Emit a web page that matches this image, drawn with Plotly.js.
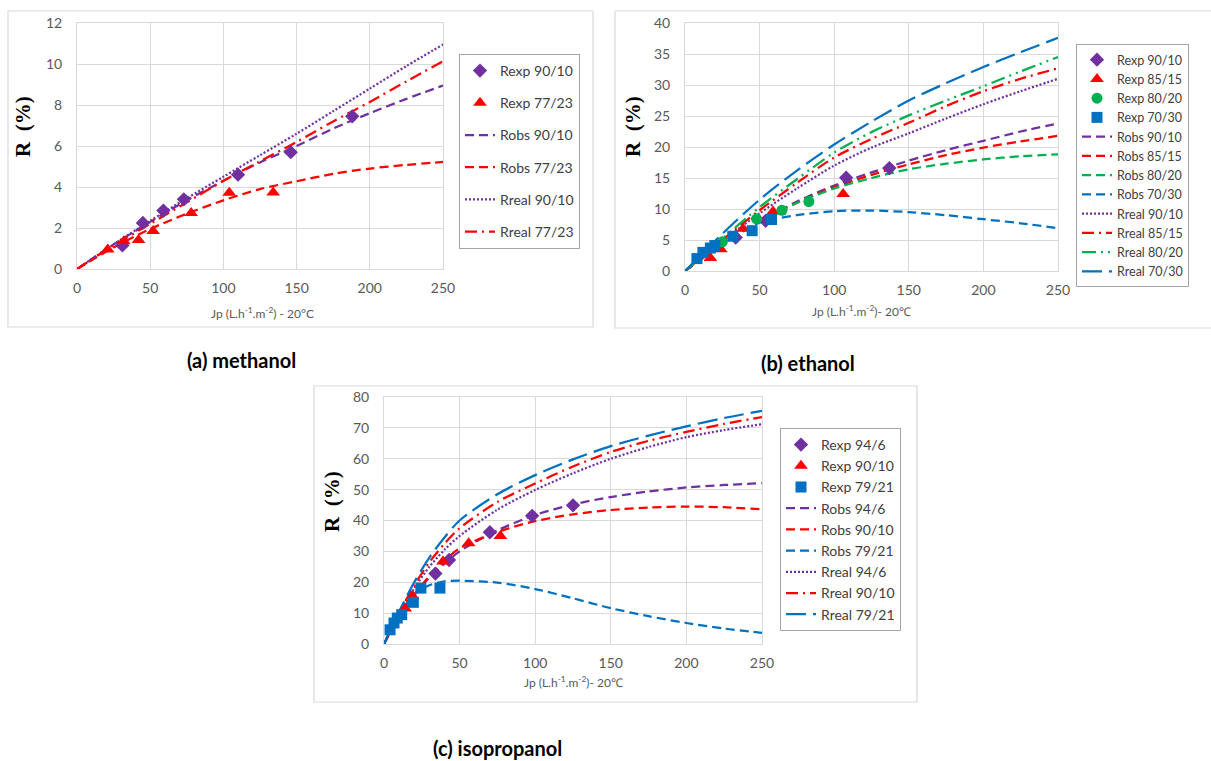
<!DOCTYPE html>
<html>
<head>
<meta charset="utf-8">
<script src="https://cdn.plot.ly/plotly-3.0.1.min.js"></script>
<style>html,body{margin:0;padding:0;background:#fff;}#chart{width:1211px;height:761px;}</style>
</head>
<body>
<div id="chart"></div>
<script>
// ---------- (a) methanol ----------
const xCurveA = [0,25,50,75,100,125,150,175,200,225,250];
const robsA_9010 = [0,1.2,2.3,3.35,4.3,5.2,6.0,6.85,7.6,8.3,8.95];
const robsA_7723 = [0,1.05,1.95,2.7,3.35,3.9,4.28,4.64,4.9,5.08,5.22];
const rrealA_9010 = [0,1.2,2.35,3.45,4.5,5.55,6.6,7.7,8.8,9.9,10.95];
const rrealA_7723 = [0,1.15,2.2,3.25,4.3,5.25,6.2,7.2,8.15,9.15,10.13];
const expA_9010_x = [31,45,59,73,110,146,188];
const expA_9010_y = [1.15,2.25,2.85,3.4,4.6,5.7,7.45];
const expA_7723_x = [21,32,42,52,78,104,134];
const expA_7723_y = [0.95,1.35,1.42,1.85,2.73,3.72,3.73];

// ---------- (b) ethanol ----------
const xCurveB = [0,25,50,75,100,125,150,175,200,225,250];
const robsB_9010 = [0,4.3,8.0,11.2,13.8,15.9,17.8,19.5,21.0,22.5,23.8];
const robsB_8515 = [0,4.3,8.0,11.0,13.5,15.5,17.2,18.7,19.9,20.9,21.8];
const robsB_8020 = [0,4.4,8.1,11.0,13.3,15.0,16.4,17.3,18.0,18.5,18.8];
const robsB_7030 = [0,4.6,7.8,9.0,9.65,9.75,9.5,9.0,8.35,7.7,6.9];
const rrealB_9010 = [0,4.8,9.3,13.3,17.0,19.9,22.2,24.6,26.9,29.0,31.0];
const rrealB_8515 = [0,5.0,9.8,14.2,18.3,21.3,23.9,26.6,29.0,31.0,32.7];
const rrealB_8020 = [0,5.2,10.3,14.8,19.1,22.4,25.1,27.5,29.8,32.2,34.5];
const rrealB_7030 = [0,6.0,11.5,16.2,20.4,24.1,27.5,30.3,32.9,35.3,37.6];
const expB_9010_x = [34,54,108,137];
const expB_9010_y = [5.4,8.1,15.05,16.6];
const expB_8515_x = [17,24,39,59,106];
const expB_8515_y = [2.1,3.5,6.8,9.6,12.4];
const expB_8020_x = [25,48,65,83];
const expB_8020_y = [4.7,8.4,9.8,11.2];
const expB_7030_x = [8,12,17,20,32,45,58];
const expB_7030_y = [2.0,3.0,3.7,4.1,5.6,6.5,8.3];

// ---------- (c) isopropanol ----------
const xCurveC = [0,10,20,30,40,50,75,100,125,150,175,200,225,250];
const robsC_946 = [0,9,16,21.5,26,30,36.8,41.8,45.2,47.6,49.4,50.7,51.5,52.1];
const robsC_9010 = [0,9,16,22,27,31,36.3,39.8,42.0,43.4,44.2,44.5,44.3,43.6];
const robsC_7921 = [0,9.5,16,19,20.3,20.5,19.9,17.8,14.8,11.6,9.0,6.8,5.0,3.6];
const rrealC_946 = [0,9.5,18,25,30.5,35,43.5,49.9,55.3,60.0,63.8,67.0,69.3,71.2];
const rrealC_9010 = [0,10,19,26.5,32.5,37.5,46,52,57.5,62.2,65.8,68.7,71.3,73.5];
const rrealC_7921 = [0,10.5,20,28,34.5,40,48.5,54.7,59.8,64.1,67.5,70.5,73.2,75.5];
const expC_946_x = [34,43,70,98,125];
const expC_946_y = [22.8,27.2,36.2,41.5,44.9];
const expC_9010_x = [14,19,39,56,77];
const expC_9010_y = [11.5,15.5,26.7,32.6,35.0];
const expC_7921_x = [4,6.6,8.8,11.7,19.4,24.4,37];
const expC_7921_y = [4.6,6.8,8.4,9.5,13.5,18.1,18.1];

// ---------- styling ----------
const PURPLE = '#7030A0', RED = '#FF0000', GREEN = '#00B050', BLUE = '#0070C0';
const W = 1211, H = 761;
const px = v => v / W, py = v => 1 - v / H;
const DASH_OBS = '9px,5px';
const DASH_DOT = '2px,2px';
const DASH_DASHDOT = '12px,5px,2px,5px';
const DASH_DASHDOTDOT = '14px,5px,2px,5px,2px,5px';
const DASH_LONG = '20px,7px';
const LW = 2.25;

let rank = 0;
function line(name, x, y, color, dash, ax, leg, grp) {
  return {type:'scatter', mode:'lines', name, x, y, xaxis:'x'+ax, yaxis:'y'+ax, legend:leg,
    legendgroup:grp ? name : undefined, legendrank: 100 + (rank++),
    line:{color, width:LW, dash, shape:'spline', smoothing:0.8}, hoverinfo:'skip'};
}
function pts(name, x, y, color, symbol, size, ax, leg, grp) {
  return {type:'scatter', mode:'markers', name, x, y, xaxis:'x'+ax, yaxis:'y'+ax, legend:leg,
    legendgroup:grp ? name : undefined, legendrank: (rank++),
    marker:{color, symbol, size, line:{width:0}}, hoverinfo:'skip'};
}

const traces = [];
// (a)
rank = 0;
const aExp = [
  pts('Rexp 90/10', expA_9010_x, expA_9010_y, PURPLE, 'diamond', 11, '', 'legend', true),
  pts('Rexp 77/23', expA_7723_x, expA_7723_y, RED, 'triangle-up', 12, '', 'legend', true)];
const aLines = [
  line('Robs 90/10', xCurveA, robsA_9010, PURPLE, DASH_OBS, '', 'legend', true),
  line('Robs 77/23', xCurveA, robsA_7723, RED, DASH_OBS, '', 'legend', true),
  line('Rreal 90/10', xCurveA, rrealA_9010, PURPLE, DASH_DOT, '', 'legend', true),
  line('Rreal 77/23', xCurveA, rrealA_7723, RED, DASH_DASHDOT, '', 'legend', true)];
traces.push(...aLines, ...aExp);
// (b)
rank = 0;
const bExp = [
  pts('Rexp 90/10', expB_9010_x, expB_9010_y, PURPLE, 'diamond', 11, '2', 'legend2'),
  pts('Rexp 85/15', expB_8515_x, expB_8515_y, RED, 'triangle-up', 12, '2', 'legend2'),
  pts('Rexp 80/20', expB_8020_x, expB_8020_y, GREEN, 'circle', 11, '2', 'legend2'),
  pts('Rexp 70/30', expB_7030_x, expB_7030_y, BLUE, 'square', 11, '2', 'legend2')];
const bLines = [
  line('Robs 90/10', xCurveB, robsB_9010, PURPLE, DASH_OBS, '2', 'legend2'),
  line('Robs 85/15', xCurveB, robsB_8515, RED, DASH_OBS, '2', 'legend2'),
  line('Robs 80/20', xCurveB, robsB_8020, GREEN, DASH_OBS, '2', 'legend2'),
  line('Robs 70/30', xCurveB, robsB_7030, BLUE, DASH_OBS, '2', 'legend2'),
  line('Rreal 90/10', xCurveB, rrealB_9010, PURPLE, DASH_DOT, '2', 'legend2'),
  line('Rreal 85/15', xCurveB, rrealB_8515, RED, DASH_DASHDOT, '2', 'legend2'),
  line('Rreal 80/20', xCurveB, rrealB_8020, GREEN, DASH_DASHDOTDOT, '2', 'legend2'),
  line('Rreal 70/30', xCurveB, rrealB_7030, BLUE, DASH_LONG, '2', 'legend2')];
traces.push(...bLines, ...bExp);
// (c)
rank = 0;
const cExp = [
  pts('Rexp 94/6', expC_946_x, expC_946_y, PURPLE, 'diamond', 11, '3', 'legend3'),
  pts('Rexp 90/10', expC_9010_x, expC_9010_y, RED, 'triangle-up', 12, '3', 'legend3'),
  pts('Rexp 79/21', expC_7921_x, expC_7921_y, BLUE, 'square', 11, '3', 'legend3')];
const cLines = [
  line('Robs 94/6', xCurveC, robsC_946, PURPLE, DASH_OBS, '3', 'legend3'),
  line('Robs 90/10', xCurveC, robsC_9010, RED, DASH_OBS, '3', 'legend3'),
  line('Robs 79/21', xCurveC, robsC_7921, BLUE, DASH_OBS, '3', 'legend3'),
  line('Rreal 94/6', xCurveC, rrealC_946, PURPLE, DASH_DOT, '3', 'legend3'),
  line('Rreal 90/10', xCurveC, rrealC_9010, RED, DASH_DASHDOT, '3', 'legend3'),
  line('Rreal 79/21', xCurveC, rrealC_7921, BLUE, DASH_LONG, '3', 'legend3')];
traces.push(...cLines, ...cExp);

const TICKFONT = {family:'Lato, "Open Sans", sans-serif', size:14, color:'#595959'};
const GRID = '#d9d9d9';
function xax(d0, d1, anchor) {
  return {domain:[px(d0), px(d1)], range:[0,250], dtick:50, tick0:0, anchor,
    showgrid:true, gridcolor:GRID, gridwidth:1, zeroline:false, showline:true, linecolor:GRID,
    mirror:true, ticks:'', tickfont:TICKFONT, ticklabelstandoff:6, fixedrange:true};
}
function yax(top, bottom, max, dt, anchor) {
  return {domain:[py(bottom), py(top)], range:[0,max], dtick:dt, tick0:0, anchor,
    showgrid:true, gridcolor:GRID, gridwidth:1, zeroline:false, showline:true, linecolor:GRID,
    mirror:true, ticks:'', tickfont:TICKFONT, ticklabelstandoff:11, fixedrange:true};
}
const LEGFONT = {family:'Lato, "Open Sans", sans-serif', size:14, color:'#404040'};
function legend(left, top, font, gap) {
  return {x:px(left), y:py(top), xanchor:'left', yanchor:'top', bgcolor:'#ffffff',
    bordercolor:'#a6a6a6', borderwidth:1, font, tracegroupgap:gap, traceorder:'normal',
    itemclick:false, itemdoubleclick:false};
}

function frame(x0, y0, x1, y1) {
  return {type:'rect', xref:'paper', yref:'paper', x0:px(x0), x1:px(x1), y0:py(y1), y1:py(y0),
    line:{color:'#d9d9d9', width:1.2}, fillcolor:'rgba(0,0,0,0)', layer:'below'};
}
const RFONT = {family:'"Liberation Serif", "DejaVu Serif", serif', size:21, color:'#000'};
const JPFONT = {family:'Lato, "Open Sans", sans-serif', size:12, color:'#595959'};
const CAPFONT = {family:'Lato, "Open Sans", sans-serif', size:20, color:'#000'};
function ann(text, x, y, font, angle) {
  return {text, x:px(x), y:py(y), xref:'paper', yref:'paper', showarrow:false,
    xanchor:'center', yanchor:'middle', font, textangle:angle || 0};
}

const layout = {
  width:W, height:H, margin:{l:0,r:0,t:0,b:0},
  paper_bgcolor:'#ffffff', plot_bgcolor:'#ffffff', hovermode:false,
  xaxis: xax(77, 443, 'y'), yaxis: yax(23, 269, 12, 2, 'x'),
  xaxis2: xax(685, 1058, 'y2'), yaxis2: yax(23, 271, 40, 5, 'x2'),
  xaxis3: xax(384, 762, 'y3'), yaxis3: yax(397, 644, 80, 10, 'x3'),
  legend: Object.assign(legend(459, 54, LEGFONT, 11), {traceorder:'grouped'}),
  legend2: legend(1076, 44, Object.assign({}, LEGFONT, {size:12.5}), 0),
  legend3: legend(780, 428, LEGFONT, 0),
  shapes: [frame(8, 11, 593, 327), frame(615, 11, 1212, 328), frame(314, 386, 917, 702)],
  annotations: [
    ann('<b>R  (%)</b>', 23, 127, RFONT, -90),
    ann('<b>R  (%)</b>', 633, 127, RFONT, -90),
    ann('<b>R  (%)</b>', 332, 502, RFONT, -90),
    ann('Jp (L.h<sup>-1</sup>.m<sup>-2</sup>) - 20°C', 262, 313, JPFONT),
    ann('Jp (L.h<sup>-1</sup>.m<sup>-2</sup>)- 20℃', 862, 311, JPFONT),
    ann('Jp (L.h<sup>-1</sup>.m<sup>-2</sup>)- 20℃', 573, 682, JPFONT),
    ann('<b>(a) methanol</b>', 241, 360, CAPFONT),
    ann('<b>(b) ethanol</b>', 808, 363, CAPFONT),
    ann('<b>(c) isopropanol</b>', 497, 748, CAPFONT)
  ]
};

Plotly.newPlot('chart', traces, layout, {staticPlot:true, displayModeBar:false});
</script>
</body>
</html>
